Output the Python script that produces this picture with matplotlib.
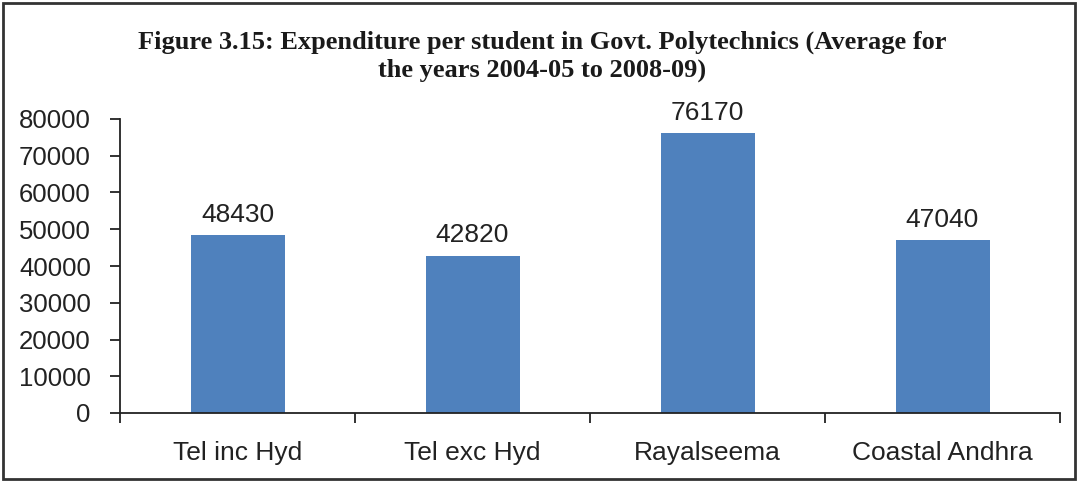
import matplotlib
matplotlib.use("Agg")
import matplotlib.pyplot as plt
from matplotlib.patches import Rectangle

categories = ["Tel inc Hyd", "Tel exc Hyd", "Rayalseema", "Coastal Andhra"]
values = [48430, 42820, 76170, 47040]
yticks = [0, 10000, 20000, 30000, 40000, 50000, 60000, 70000, 80000]
title = "Figure 3.15: Expenditure per student in Govt. Polytechnics (Average for\nthe years 2004-05 to 2008-09)"

fig = plt.figure(figsize=(10.78, 4.82), dpi=100)
ax = fig.add_axes([120/1078, 1-413/482, 940/1078, (413-119)/482])

x = list(range(len(categories)))
ax.bar(x, values, width=0.4, color="#4F81BD", zorder=2)
for xi, v in zip(x, values):
    ax.text(xi, v + 2300, f"{v}", ha="center", va="bottom",
            fontsize=19, family="Liberation Sans", color="#222222")

ax.set_xlim(-0.5, len(categories) - 0.5)
ax.set_ylim(0, 80000)
ax.set_yticks(yticks)
ax.set_yticklabels([str(t) for t in yticks], family="Liberation Sans", fontsize=18.5, color="#222222")
ax.set_xticks(x)
ax.set_xticklabels(categories, family="Liberation Sans", fontsize=19, color="#222222")
ax.set_xticks([i - 0.5 for i in range(len(categories) + 1)], minor=True)
ax.tick_params(axis="x", which="major", length=0, pad=20)
ax.tick_params(axis="x", which="minor", length=7, width=1.3, color="#222222", direction="out")
ax.tick_params(axis="y", length=7, width=1.3, color="#222222", pad=14)
for s in ["top", "right"]:
    ax.spines[s].set_visible(False)
for s in ["left", "bottom"]:
    ax.spines[s].set_linewidth(1.3)
    ax.spines[s].set_color("#222222")

fig.text(542/1078, 1-56/482, title, ha="center", va="center",
         family="Liberation Serif", fontweight="bold", fontsize=19,
         color="#1a1a1a", linespacing=1.25)

fig.patches.append(Rectangle((3/1078, 3/482), 1072/1078, 476/482, transform=fig.transFigure,
                             fill=False, edgecolor="#333333", linewidth=2))

fig.savefig("out.png", dpi=100)
